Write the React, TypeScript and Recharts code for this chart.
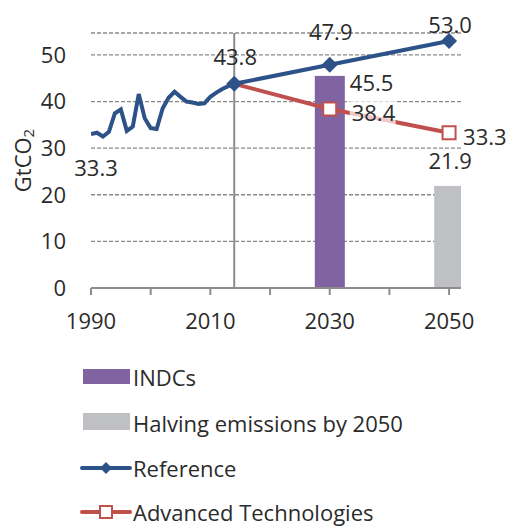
import React from "react";
import {
  Bar,
  CartesianGrid,
  ComposedChart,
  Line,
  ReferenceLine,
  XAxis,
  YAxis,
} from "recharts";

const C = {
  blue: "#2c5288",
  red: "#c0504d",
  purple: "#8064a2",
  gray: "#bfc0c4",
  grid: "#8a8a8a",
  axis: "#8c8c8c",
  text: "#2b2b2b",
};
const FONT = "'Open Sans', 'Noto Sans', sans-serif";
const FS = 22;

const years = [
  1990, 1991, 1992, 1993, 1994, 1995, 1996, 1997, 1998, 1999, 2000, 2001, 2002,
  2003, 2004, 2005, 2006, 2007, 2008, 2009, 2010, 2011, 2012, 2013, 2014, 2030,
  2050,
];
const historical = [
  33.0, 33.3, 32.5, 33.5, 37.5, 38.3, 33.7, 34.6, 41.6, 36.4, 34.3, 34.1, 38.5,
  40.8, 42.1, 41.0, 40.0, 39.8, 39.5, 39.6, 41.0, 41.9, 42.7, 43.3, 43.8,
];
const projYears = [2014, 2030, 2050];
const reference = [43.8, 47.9, 53.0];
const advanced = [43.8, 38.4, 33.3];
const indcs = [{ year: 2030, value: 45.5 }];
const halving = [{ year: 2050, value: 21.9 }];

const xTicks = [1990, 2000, 2010, 2020, 2030, 2040, 2050];
const yTicks = [0, 10, 20, 30, 40, 50];

const rows = years.map((year, i) => {
  const p = projYears.indexOf(year);
  const ind = indcs.find((d) => d.year === year);
  const hal = halving.find((d) => d.year === year);
  return {
    year,
    hist: i < historical.length ? historical[i] : null,
    refer: p >= 0 ? reference[p] : null,
    adv: p >= 0 ? advanced[p] : null,
    indc: ind ? ind.value : null,
    halve: hal ? hal.value : null,
  };
});

const txt = { fontFamily: FONT, fontSize: FS, fill: C.text };
const BAR_W = 30;

function Diamond({ cx, cy, value, half = 8 }: any) {
  if (value == null || cx == null) return <g />;
  const r = half;
  return (
    <path
      d={`M${cx},${cy - r} L${cx + r},${cy} L${cx},${cy + r} L${cx - r},${cy} Z`}
      fill={C.blue}
    />
  );
}

function Square({ cx, cy, value, payload }: any) {
  if (value == null || cx == null || payload?.year === 2014) return <g />;
  return (
    <rect x={cx - 6.5} y={cy - 6.5} width={13} height={13} fill="#fff" stroke={C.red} strokeWidth={2} />
  );
}

function WideBar({ x, y, width, height, fill }: any) {
  if (!height || height < 1) return <g />;
  return <rect x={x + width / 2 - BAR_W / 2} y={y} width={BAR_W} height={height} fill={fill} />;
}

function HistLabel({ x, y, index }: any) {
  if (index !== 0) return null;
  return (
    <text x={x + 5} y={y + 33} textAnchor="middle" dominantBaseline="central" {...txt}>
      33.3
    </text>
  );
}

const refDy: Record<number, number> = { 2014: -28, 2030: -34, 2050: -17 };
function RefLabel({ x, y, value, index }: any) {
  const yr = rows[index]?.year;
  if (value == null || refDy[yr] == null) return null;
  return (
    <text x={x + 1} y={y + refDy[yr]} textAnchor="middle" dominantBaseline="central" {...txt}>
      {Number(value).toFixed(1)}
    </text>
  );
}

const advDx: Record<number, number> = { 2030: 22, 2050: 14 };
function AdvLabel({ x, y, value, index }: any) {
  const yr = rows[index]?.year;
  if (value == null || advDx[yr] == null) return null;
  return (
    <g>
      {yr === 2030 && <rect x={x + 20} y={y - 10} width={46} height={26} fill="#fff" opacity={0.7} />}
      <text x={x + advDx[yr]} y={y + 3} dominantBaseline="central" {...txt}>
        {Number(value).toFixed(1)}
      </text>
    </g>
  );
}

function IndcLabel({ x, y, width, index }: any) {
  const v = rows[index]?.indc;
  if (v == null) return null;
  return (
    <text x={x + width / 2 + BAR_W / 2 + 5} y={y + 6} dominantBaseline="central" {...txt}>
      {v.toFixed(1)}
    </text>
  );
}

function HalveLabel({ x, y, width, index }: any) {
  const v = rows[index]?.halve;
  if (v == null) return null;
  return (
    <text x={x + width / 2 + 1} y={y - 26} textAnchor="middle" dominantBaseline="central" {...txt}>
      {v.toFixed(1)}
    </text>
  );
}

function YLabel({ viewBox }: any) {
  const x = (viewBox?.x ?? 0) + 22;
  const y = (viewBox?.y ?? 33) + (viewBox?.height ?? 255) / 2;
  return (
    <text x={x} y={y} transform={`rotate(-90 ${x} ${y})`} textAnchor="middle" dominantBaseline="central" {...txt}>
      GtCO<tspan fontSize={15} dy={6}>2</tspan>
    </text>
  );
}

function LegendBlock() {
  const t = { ...txt, dominantBaseline: "central" as const };
  return (
    <svg width={508} height={176} style={{ position: "absolute", left: 0, top: 350 }}>
      <rect x={83} y={19} width={47} height={15} fill={C.purple} />
      <text x={133} y={27} {...t}>INDCs</text>
      <rect x={83} y={63} width={47} height={17} fill={C.gray} />
      <text x={133} y={73} {...t}>Halving emissions by 2050</text>
      <line x1={82} x2={130} y1={118} y2={118} stroke={C.blue} strokeWidth={4} strokeLinecap="round" />
      <Diamond cx={106} cy={118} value={1} half={6} />
      <text x={133} y={118} {...t}>Reference</text>
      <line x1={82} x2={130} y1={162} y2={162} stroke={C.red} strokeWidth={4} strokeLinecap="round" />
      <rect x={100} y={156} width={12} height={12} fill="#fff" stroke={C.red} strokeWidth={2} />
      <text x={133} y={162} {...t}>Advanced Technologies</text>
    </svg>
  );
}

export default function App() {
  return (
    <div style={{ position: "absolute", left: 0, top: 0, width: 508, height: 526, background: "#fff" }}>
      <ComposedChart
        width={508}
        height={350}
        data={rows}
        margin={{ top: 33, right: 47, left: 0, bottom: 12 }}
      >
        <CartesianGrid vertical={false} stroke={C.grid} strokeDasharray="4 2" strokeWidth={1.3} />
        <XAxis
          dataKey="year"
          type="number"
          domain={[1990, 2052]}
          ticks={xTicks}
          allowDataOverflow
          height={50}
          tickSize={7}
          tickMargin={18}
          tickFormatter={(v: number) => ((v - 1990) % 20 === 0 ? String(v) : "")}
          axisLine={{ stroke: C.axis, strokeWidth: 2 }}
          tickLine={{ stroke: C.axis, strokeWidth: 2 }}
          tick={{ fontFamily: FONT, fontSize: FS, fill: C.text }}
        />
        <YAxis
          type="number"
          domain={[0, 54.7]}
          ticks={yTicks}
          allowDataOverflow
          width={91}
          axisLine={false}
          tickLine={false}
          tickMargin={19}
          tick={{ fontFamily: FONT, fontSize: FS, fill: C.text }}
          label={<YLabel />}
        />
        <ReferenceLine x={2014} stroke={C.axis} strokeWidth={2} />
        <Bar dataKey="indc" stackId="s" fill={C.purple} shape={<WideBar />} isAnimationActive={false} label={<IndcLabel />} />
        <Bar dataKey="halve" stackId="s" fill={C.gray} shape={<WideBar />} isAnimationActive={false} label={<HalveLabel />} />
        <Line
          dataKey="hist"
          stroke={C.blue}
          strokeWidth={4}
          dot={false}
          isAnimationActive={false}
          label={<HistLabel />}
        />
        <Line
          dataKey="adv"
          stroke={C.red}
          strokeWidth={4}
          connectNulls
          dot={<Square />}
          isAnimationActive={false}
          label={<AdvLabel />}
        />
        <Line
          dataKey="refer"
          stroke={C.blue}
          strokeWidth={4}
          connectNulls
          dot={<Diamond />}
          isAnimationActive={false}
          label={<RefLabel />}
        />
      </ComposedChart>
      <LegendBlock />
    </div>
  );
}
